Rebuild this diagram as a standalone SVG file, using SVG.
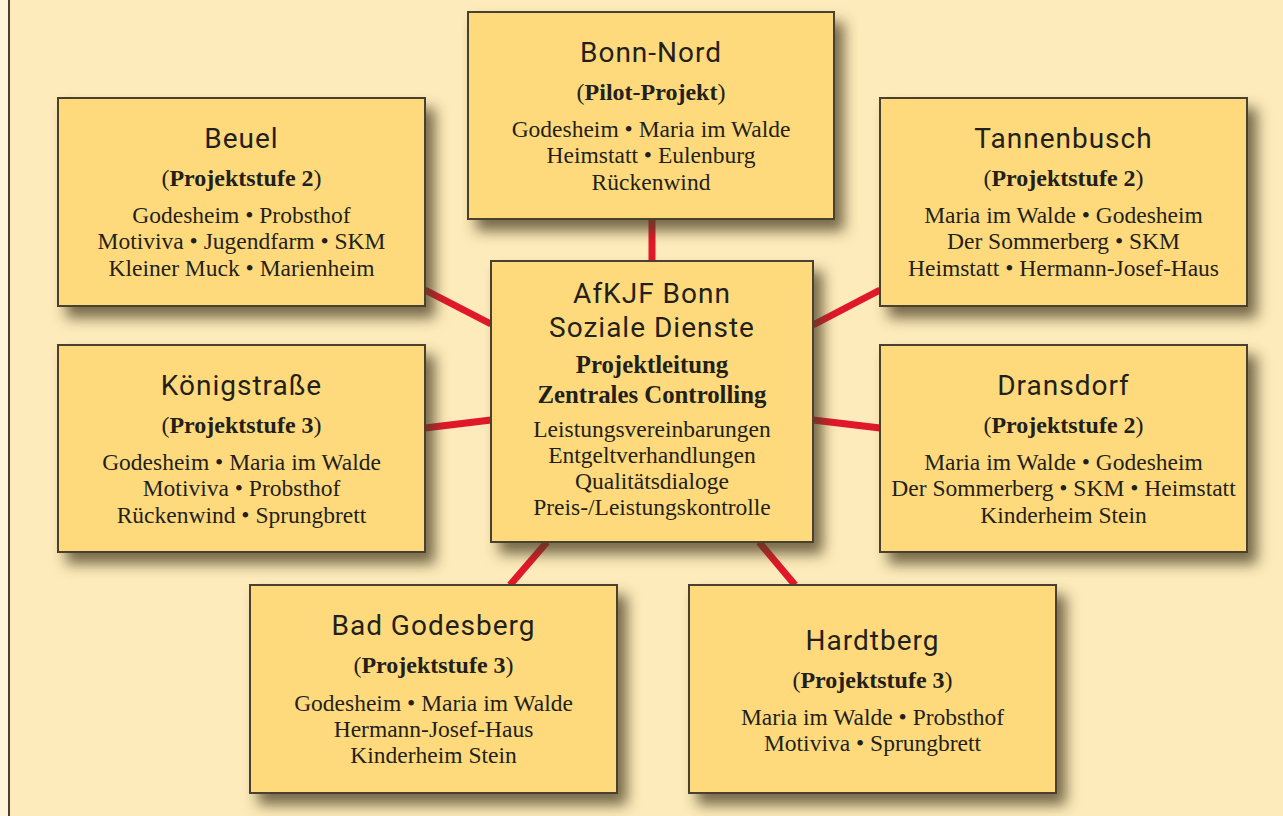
<svg xmlns="http://www.w3.org/2000/svg" width="1283" height="816" viewBox="0 0 1283 816">
<defs>
<filter id="sh" x="-10%" y="-10%" width="130%" height="140%">
<feDropShadow dx="9" dy="11" stdDeviation="7" flood-color="#4a3c22" flood-opacity="0.75"/>
</filter>
</defs>
<style>
.bg{fill:#FDEBBB}
.box{fill:#FFDA7D;stroke:#4a4132;stroke-width:2}
.ln{stroke:#E0182A;stroke-width:7;fill:none}
.t{font-family:Roboto,"DejaVu Sans",sans-serif;font-size:28px;letter-spacing:1px;fill:#231f1a;text-anchor:middle}
.s{font-family:"Liberation Serif","Times New Roman",serif;font-size:23.5px;fill:#231f1a;text-anchor:middle}
.b{font-weight:bold}
.p{font-size:24px}
.c{font-size:24.8px}
</style>
<rect class="bg" x="0" y="0" width="1283" height="816"/>
<rect x="0" y="0" width="8" height="816" fill="#FFF5DA"/>
<line x1="9" y1="0" x2="9" y2="816" stroke="#4a4132" stroke-width="2"/>
<g id="connectors">
<line class="ln" x1="652" y1="219" x2="652" y2="261"/>
<line class="ln" x1="425" y1="290" x2="491" y2="324"/>
<line class="ln" x1="880" y1="290" x2="813" y2="325"/>
<line class="ln" x1="425" y1="428" x2="491" y2="420"/>
<line class="ln" x1="813" y1="420" x2="880" y2="428"/>
<line class="ln" x1="547" y1="542" x2="510" y2="585"/>
<line class="ln" x1="759" y1="542" x2="795" y2="585"/>
</g>
<g id="bonn-nord">
<rect class="box" x="468" y="12" width="366" height="207" filter="url(#sh)"/>
<text class="t" x="651" y="62">Bonn-Nord</text>
<text class="s p" x="651" y="100">(<tspan class="b">Pilot-Projekt</tspan>)</text>
<text class="s" x="651" y="137">Godesheim • Maria im Walde</text>
<text class="s" x="651" y="163">Heimstatt • Eulenburg</text>
<text class="s" x="651" y="190">Rückenwind</text>
</g>
<g id="beuel">
<rect class="box" x="58" y="98" width="367" height="208" filter="url(#sh)"/>
<text class="t" x="241.5" y="148">Beuel</text>
<text class="s p" x="241.5" y="186">(<tspan class="b">Projektstufe 2</tspan>)</text>
<text class="s" x="241.5" y="223">Godesheim • Probsthof</text>
<text class="s" x="241.5" y="249">Motiviva • Jugendfarm • SKM</text>
<text class="s" x="241.5" y="276">Kleiner Muck • Marienheim</text>
</g>
<g id="tannenbusch">
<rect class="box" x="880" y="98" width="367" height="208" filter="url(#sh)"/>
<text class="t" x="1063.5" y="148">Tannenbusch</text>
<text class="s p" x="1063.5" y="186">(<tspan class="b">Projektstufe 2</tspan>)</text>
<text class="s" x="1063.5" y="223">Maria im Walde • Godesheim</text>
<text class="s" x="1063.5" y="249">Der Sommerberg • SKM</text>
<text class="s" x="1063.5" y="276">Heimstatt • Hermann-Josef-Haus</text>
</g>
<g id="afkjf">
<rect class="box" x="491" y="261" width="322" height="281" filter="url(#sh)"/>
<text class="t" x="652" y="303">AfKJF Bonn</text>
<text class="t" x="652" y="337">Soziale Dienste</text>
<text class="s b c" x="652" y="373">Projektleitung</text>
<text class="s b c" x="652" y="403">Zentrales Controlling</text>
<text class="s" x="652" y="437">Leistungsvereinbarungen</text>
<text class="s" x="652" y="463">Entgeltverhandlungen</text>
<text class="s" x="652" y="489">Qualitätsdialoge</text>
<text class="s" x="652" y="515">Preis-/Leistungskontrolle</text>
</g>
<g id="koenigstrasse">
<rect class="box" x="58" y="345" width="367" height="207" filter="url(#sh)"/>
<text class="t" x="241.5" y="395">Königstraße</text>
<text class="s p" x="241.5" y="433">(<tspan class="b">Projektstufe 3</tspan>)</text>
<text class="s" x="241.5" y="470">Godesheim • Maria im Walde</text>
<text class="s" x="241.5" y="496">Motiviva • Probsthof</text>
<text class="s" x="241.5" y="523">Rückenwind • Sprungbrett</text>
</g>
<g id="dransdorf">
<rect class="box" x="880" y="345" width="367" height="207" filter="url(#sh)"/>
<text class="t" x="1063.5" y="395">Dransdorf</text>
<text class="s p" x="1063.5" y="433">(<tspan class="b">Projektstufe 2</tspan>)</text>
<text class="s" x="1063.5" y="470">Maria im Walde • Godesheim</text>
<text class="s" x="1063.5" y="496">Der Sommerberg • SKM • Heimstatt</text>
<text class="s" x="1063.5" y="523">Kinderheim Stein</text>
</g>
<g id="bad-godesberg">
<rect class="box" x="250" y="585" width="367" height="208" filter="url(#sh)"/>
<text class="t" x="433.5" y="635">Bad Godesberg</text>
<text class="s p" x="433.5" y="673">(<tspan class="b">Projektstufe 3</tspan>)</text>
<text class="s" x="433.5" y="711">Godesheim • Maria im Walde</text>
<text class="s" x="433.5" y="737">Hermann-Josef-Haus</text>
<text class="s" x="433.5" y="763">Kinderheim Stein</text>
</g>
<g id="hardtberg">
<rect class="box" x="689" y="585" width="367" height="208" filter="url(#sh)"/>
<text class="t" x="872.5" y="650">Hardtberg</text>
<text class="s p" x="872.5" y="688">(<tspan class="b">Projektstufe 3</tspan>)</text>
<text class="s" x="872.5" y="725">Maria im Walde • Probsthof</text>
<text class="s" x="872.5" y="751">Motiviva • Sprungbrett</text>
</g>
</svg>
